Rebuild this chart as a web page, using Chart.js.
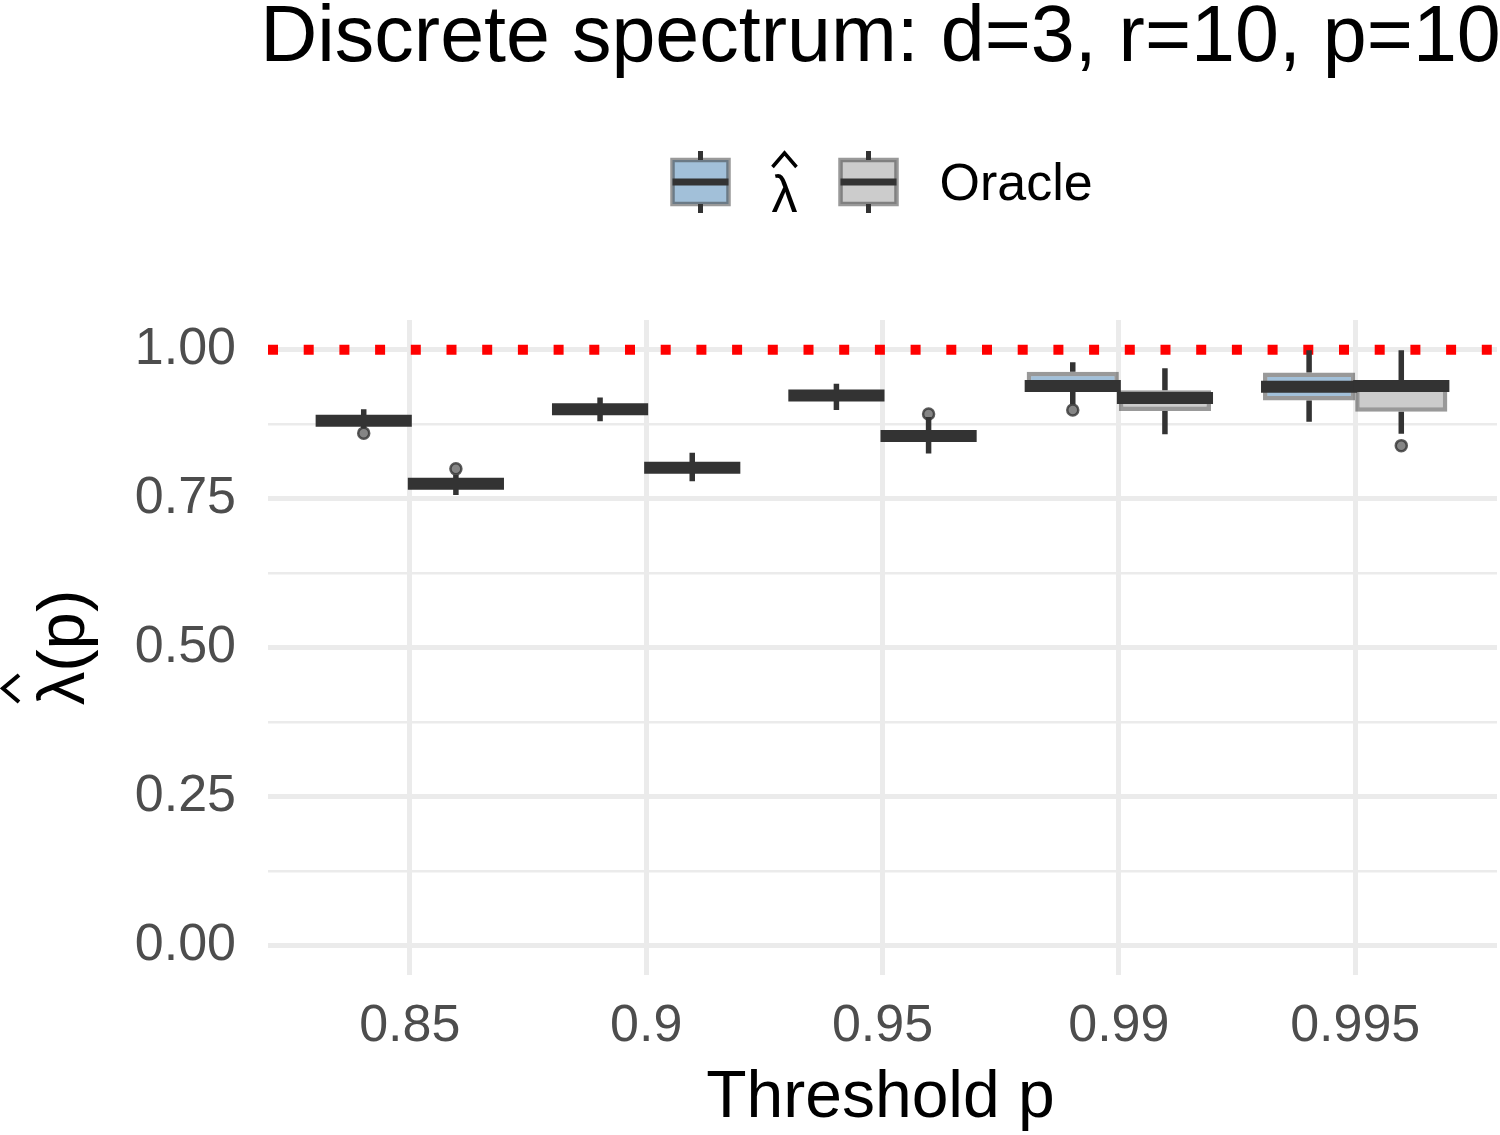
<!DOCTYPE html>
<html>
<head>
<meta charset="utf-8">
<script src="https://cdn.jsdelivr.net/npm/chart.js@4.4.0/dist/chart.umd.min.js"></script>
<style>
  html, body { margin: 0; padding: 0; background: #fff; }
  canvas { display: block; }
</style>
</head>
<body>
<canvas id="chart" width="1500" height="1135"></canvas>
<script>
// Boxplot data

const thresholds = ['0.85', '0.9', '0.95', '0.99', '0.995'];

// lambda-hat estimator
const lamLo  = [0.868, 0.880, 0.899, 0.908, 0.879];
const lamQ1  = [0.877, 0.896, 0.919, 0.935, 0.915];
const lamMed = [0.881, 0.900, 0.923, 0.939, 0.938];
const lamQ3  = [0.886, 0.904, 0.927, 0.963, 0.962];
const lamHi  = [0.900, 0.920, 0.943, 0.979, 0.999];
const lamOut = [[0.860], [], [], [0.899], []];

// Oracle
const orcLo  = [0.756, 0.779, 0.826, 0.858, 0.859];
const orcQ1  = [0.771, 0.798, 0.845, 0.897, 0.896];
const orcMed = [0.775, 0.802, 0.855, 0.919, 0.939];
const orcQ3  = [0.779, 0.806, 0.864, 0.932, 0.945];
const orcHi  = [0.790, 0.827, 0.887, 0.969, 0.999];
const orcOut = [[0.800], [], [0.892], [], [0.839]];

const yMajor = [0, 0.25, 0.5, 0.75, 1];
const yMinor = [0.125, 0.375, 0.625, 0.875];
const refLevel = 1;

const FONT = "'Liberation Sans', Arial, Helvetica, sans-serif";
const INK = '#333333';
const lamFill = 'rgba(70,130,180,0.5)';
const orcFill = 'rgba(153,153,153,0.5)';
const boxEdge = 'rgba(51,51,51,0.5)';

function boxData(q1, q3) {
    return q1.map((v, i) => ({ x: i + 1, y: [v, q3[i]] }));
}

// whiskers, outliers, medians and the dotted reference line
const boxPlugin = {
    id: 'boxes',
    beforeDatasetsDraw(chart) {
        const { ctx, chartArea, scales: { y } } = chart;
        ctx.save();
        ctx.strokeStyle = '#ff0000';
        ctx.lineWidth = 10;
        ctx.setLineDash([10, 25.7]);
        const yr = y.getPixelForValue(refLevel);
        ctx.beginPath();
        ctx.moveTo(chartArea.left, yr);
        ctx.lineTo(chartArea.right, yr);
        ctx.stroke();
        ctx.setLineDash([]);

        chart.data.datasets.forEach((ds, di) => {
            const meta = chart.getDatasetMeta(di);
            meta.data.forEach((bar, i) => {
                const cx = bar.x;
                ctx.strokeStyle = INK;
                ctx.lineWidth = 5.5;
                ctx.beginPath();
                ctx.moveTo(cx, y.getPixelForValue(ds.stats.hi[i]));
                ctx.lineTo(cx, y.getPixelForValue(ds.data[i].y[1]));
                ctx.moveTo(cx, y.getPixelForValue(ds.data[i].y[0]));
                ctx.lineTo(cx, y.getPixelForValue(ds.stats.lo[i]));
                ctx.stroke();
                ds.stats.out[i].forEach(v => {
                    ctx.beginPath();
                    ctx.arc(cx, y.getPixelForValue(v), 5.5, 0, Math.PI * 2);
                    ctx.fillStyle = 'rgba(51,51,51,0.6)';
                    ctx.fill();
                    ctx.lineWidth = 2.5;
                    ctx.strokeStyle = 'rgba(51,51,51,0.8)';
                    ctx.stroke();
                });
            });
        });
        ctx.restore();
    },
    afterDatasetsDraw(chart) {
        const { ctx, scales: { y } } = chart;
        ctx.save();
        ctx.strokeStyle = INK;
        ctx.lineWidth = 12;
        chart.data.datasets.forEach((ds, di) => {
            const meta = chart.getDatasetMeta(di);
            meta.data.forEach((bar, i) => {
                const ym = y.getPixelForValue(ds.stats.med[i]);
                ctx.beginPath();
                ctx.moveTo(bar.x - bar.width / 2 - 2, ym);
                ctx.lineTo(bar.x + bar.width / 2 + 2, ym);
                ctx.stroke();
            });
        });
        ctx.restore();
    }
};

function drawHat(ctx, x, yBase, w, h) {
    ctx.beginPath();
    ctx.moveTo(x - w / 2, yBase);
    ctx.lineTo(x, yBase - h);
    ctx.lineTo(x + w / 2, yBase);
    ctx.stroke();
}

function drawKey(ctx, x, top, w, h, fill) {
    const cx = x + w / 2;
    ctx.strokeStyle = INK;
    ctx.lineWidth = 5;
    ctx.beginPath();
    ctx.moveTo(cx, top - 9); ctx.lineTo(cx, top);
    ctx.moveTo(cx, top + h); ctx.lineTo(cx, top + h + 9);
    ctx.stroke();
    ctx.fillStyle = '#ffffff';
    ctx.fillRect(x, top, w, h);
    ctx.fillStyle = fill;
    ctx.fillRect(x, top, w, h);
    ctx.strokeStyle = boxEdge;
    ctx.lineWidth = 4.5;
    ctx.strokeRect(x, top, w, h);
    ctx.strokeStyle = INK;
    ctx.lineWidth = 7;
    ctx.beginPath();
    ctx.moveTo(x, top + h / 2); ctx.lineTo(x + w, top + h / 2);
    ctx.stroke();
}

// title, legend and axis titles
const decorPlugin = {
    id: 'decor',
    afterDraw(chart) {
        const { ctx, chartArea } = chart;
        const mid = (chartArea.left + chartArea.right) / 2;
        const midY = (chartArea.top + chartArea.bottom) / 2;
        ctx.save();
        ctx.fillStyle = '#000';
        ctx.textBaseline = 'alphabetic';

        ctx.font = `79px ${FONT}`;
        ctx.textAlign = 'center';
        ctx.fillText('Discrete spectrum: d=3, r=10, p=10', mid - 2, 61);

        ctx.font = `66px ${FONT}`;
        ctx.fillText('Threshold p', mid - 2, 1117);

        // legend
        drawKey(ctx, mid - 210, 160, 56, 44, lamFill);
        ctx.fillStyle = '#000';
        ctx.font = `52px ${FONT}`;
        ctx.textAlign = 'center';
        ctx.fillText('λ', mid - 98, 212);
        ctx.strokeStyle = '#000';
        ctx.lineWidth = 3.5;
        drawHat(ctx, mid - 98, 167, 24, 14);
        drawKey(ctx, mid - 42, 160, 56, 44, orcFill);
        ctx.fillStyle = '#000';
        ctx.textAlign = 'left';
        ctx.fillText('Oracle', mid + 57, 200);

        // y title, rotated
        ctx.translate(84, midY);
        ctx.rotate(-Math.PI / 2);
        ctx.font = `67px ${FONT}`;
        const wl = ctx.measureText('λ').width;
        const wp = ctx.measureText('(p)').width;
        const x0 = -(wl + wp) / 2;
        ctx.textAlign = 'left';
        ctx.fillText('λ', x0, 0);
        ctx.fillText('(p)', x0 + wl, 0);
        ctx.strokeStyle = '#000';
        ctx.lineWidth = 4;
        drawHat(ctx, x0 + wl / 2, -65, 27, 16);
        ctx.restore();
    }
};

const ctx = document.getElementById('chart').getContext('2d');

new Chart(ctx, {
    type: 'bar',
    data: {
        datasets: [
            {
                label: 'λ̂',
                data: boxData(lamQ1, lamQ3),
                stats: { lo: lamLo, med: lamMed, hi: lamHi, out: lamOut },
                backgroundColor: lamFill,
                borderColor: boxEdge,
                borderWidth: 4.5,
                borderSkipped: false
            },
            {
                label: 'Oracle',
                data: boxData(orcQ1, orcQ3),
                stats: { lo: orcLo, med: orcMed, hi: orcHi, out: orcOut },
                backgroundColor: orcFill,
                borderColor: boxEdge,
                borderWidth: 4.5,
                borderSkipped: false
            }
        ]
    },
    options: {
        responsive: false,
        animation: false,
        layout: { padding: { top: 320, right: 3, left: 0, bottom: 0 } },
        datasets: { bar: { categoryPercentage: 0.78, barPercentage: 1 } },
        plugins: {
            legend: { display: false },
            tooltip: { enabled: false },
            title: { display: false }
        },
        scales: {
            x: {
                type: 'linear',
                min: 0.4,
                max: 5.6,
                offset: false,
                border: { display: false },
                grid: { offset: false, color: '#ebebeb', lineWidth: 5, drawTicks: false },
                afterBuildTicks: s => { s.ticks = thresholds.map((t, i) => ({ value: i + 1 })); },
                afterFit: s => { s.height = 160; },
                ticks: {
                    autoSkip: false,
                    maxRotation: 0,
                    padding: 20,
                    color: '#4d4d4d',
                    font: { family: FONT, size: 52 },
                    callback: v => thresholds[v - 1]
                }
            },
            y: {
                min: -0.05,
                max: 1.05,
                border: { display: false },
                grid: {
                    color: '#ebebeb',
                    lineWidth: c => yMajor.includes(c.tick.value) ? 5 : 2.5,
                    drawTicks: false
                },
                afterBuildTicks: s => {
                    s.ticks = yMajor.concat(yMinor).sort((a, b) => a - b).map(v => ({ value: v }));
                },
                afterFit: s => { s.width = 268; },
                ticks: {
                    padding: 32,
                    color: '#4d4d4d',
                    font: { family: FONT, size: 52 },
                    callback: v => yMajor.includes(v) ? v.toFixed(2) : ''
                }
            }
        }
    },
    plugins: [boxPlugin, decorPlugin]
});
</script>
</body>
</html>
